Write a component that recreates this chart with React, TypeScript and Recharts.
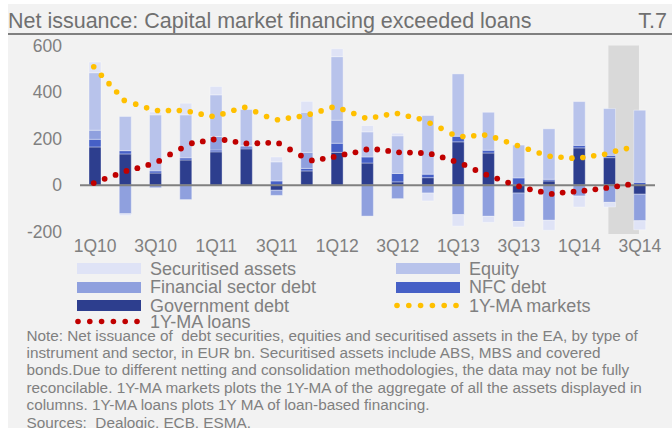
import React from 'react';
import {
  ComposedChart,
  Bar,
  Line,
  XAxis,
  YAxis,
  ReferenceLine,
  ReferenceArea
} from 'recharts';

// quarterly net issuance, EUR bn
const quarters = [
  '1Q10', '2Q10', '3Q10', '4Q10', '1Q11', '2Q11', '3Q11', '4Q11', '1Q12', '2Q12',
  '3Q12', '4Q12', '1Q13', '2Q13', '3Q13', '4Q13', '1Q14', '2Q14', '3Q14'
];
const governmentDebt = [164, 134, 52, 108, 143, 156, -22, 61, 141, 95, 14, 32, 186, 138, -34, 18, 160, 118, -39];
const nfcDebt = [33, 14, 9, 9, 8, 8, 18, 11, 39, 26, 36, 15, 24, 12, 31, 7, 11, 10, 12];
const financialDebt = [39, -123, -11, -62, 58, 6, -22, 69, 99, -133, -58, -34, -127, -134, -122, -151, -47, -74, -114];
const equity = [247, 147, 241, 185, 179, 155, 82, 172, 273, 108, 162, 252, 268, 163, 141, 217, 188, 201, 310];
const securitised = [46, -8, 12, 50, 36, 0, 21, 47, 34, 27, 11, -34, -49, -26, -24, -43, -47, -20, -39];

// 1Y moving averages (monthly points)
const marketsX = [
  0, 0.7, 1.4, 2.1, 2.8, 3.85, 4.85, 5.85, 6.85, 7.85, 8.85, 9.85, 10.85, 11.85, 12.85,
  13.85, 14.85, 15.85, 16.85, 17.85, 18.85, 19.85, 20.85, 21.85, 22.85, 23.85, 24.85,
  25.85, 26.85, 27.85, 28.85, 29.85, 30.85, 31.85, 32.85, 33.85, 34.85, 35.85, 36.85,
  37.85, 38.85, 39.85, 40.85, 41.85, 42.85, 43.85, 44.85, 45.85, 46.85, 47.85, 48.85
];
const marketsMA = [
  509, 472, 436, 400, 364, 348, 332, 321, 321, 321, 315, 305, 296, 306,
  322, 334, 315, 295, 281, 288, 295, 305, 319, 334, 325, 308,
  289, 293, 302, 308, 296, 285, 266, 244, 220, 209, 212, 215, 203,
  186, 170, 154, 138, 124, 120, 116, 119, 126, 133, 146, 157
];
const loansMA = [
  9, 27, 44, 61, 73, 87, 104, 132, 157, 180, 188, 196, 194,
  186, 179, 180, 182, 179, 153, 127, 106, 113, 121, 132, 141,
  153, 153, 147, 141, 140, 138, 133, 119, 104, 87, 65, 45, 28,
  11, -5, -18, -28, -38, -32, -28, -24, -18, -12, -5, 2
];

const yTicks = [-200, 0, 200, 400, 600];

const noteLines = [
  'Note: Net issuance of  debt securities, equities and securitised assets in the EA, by type of',
  'instrument and sector, in EUR bn. Securitised assets include ABS, MBS and covered',
  'bonds.Due to different netting and consolidation methodologies, the data may not be fully',
  'reconcilable. 1Y-MA markets plots the 1Y-MA of the aggregate of all the assets displayed in',
  'columns. 1Y-MA loans plots 1Y MA of loan-based financing.',
  'Sources:  Dealogic, ECB, ESMA.'
];

const FONT = '"Liberation Sans", Arial, sans-serif';
const GREY = '#808080';
const C_GOV = '#2D3E8E';
const C_NFC = '#4660C6';
const C_FIN = '#8FA0DE';
const C_EQ = '#B8C3EB';
const C_SEC = '#DFE3F6';
const C_MKT = '#FFC000';
const C_LOAN = '#C00000';

const barData = quarters.map((q, i) => ({
  q,
  gov: governmentDebt[i],
  nfc: nfcDebt[i],
  fin: financialDebt[i],
  eq: equity[i],
  sec: securitised[i]
}));
const marketsData = marketsX.map((t, i) => ({ t, markets: marketsMA[i] }));
const loansData = loansMA.map((v, i) => ({ t: i, loans: v }));

const tickStyle = { fill: GREY, fontSize: 17.5, fontFamily: FONT };

const Swatch = ({ color }: { color: string }) => (
  <div style={{ width: 64, height: 11, background: color }} />
);

const DotSwatch = ({ color }: { color: string }) => (
  <svg width={66} height={11}>
    {[0, 1, 2, 3, 4, 5].map((k) => (
      <circle key={k} cx={3 + k * 11.8} cy={5.5} r={2.8} fill={color} />
    ))}
  </svg>
);

const legendItems = [
  { label: 'Securitised assets', x: 77, y: 268.5, kind: 'bar', color: C_SEC },
  { label: 'Equity', x: 396, y: 268.5, kind: 'bar', color: C_EQ },
  { label: 'Financial sector debt', x: 77, y: 287, kind: 'bar', color: C_FIN },
  { label: 'NFC debt', x: 396, y: 287, kind: 'bar', color: C_NFC },
  { label: 'Government debt', x: 77, y: 305.5, kind: 'bar', color: C_GOV },
  { label: '1Y-MA markets', x: 394, y: 305.5, kind: 'dot', color: C_MKT },
  { label: '1Y-MA loans', x: 75, y: 321.5, kind: 'dot', color: C_LOAN }
];

export default function App() {
  const barProps = {
    xAxisId: 'q',
    stackId: 's',
    barSize: 12,
    stroke: '#ffffff',
    strokeOpacity: 0.35,
    strokeWidth: 1,
    isAnimationActive: false
  };
  return (
    <div
      style={{
        position: 'absolute',
        left: 0,
        top: 0,
        width: 672,
        height: 428,
        background: '#ffffff',
        overflow: 'hidden',
        fontFamily: FONT
      }}
    >
      <div style={{ position: 'absolute', left: 8, top: 4, right: 0, bottom: 0, background: '#F2F2F2' }} />

      {/* title bar */}
      <div
        style={{
          position: 'absolute',
          left: 8,
          top: 9,
          fontSize: 21.5,
          lineHeight: '24px',
          color: '#707070',
          whiteSpace: 'nowrap'
        }}
      >
        Net issuance: Capital market financing exceeded loans
      </div>
      <div
        style={{
          position: 'absolute',
          right: 5,
          top: 9,
          fontSize: 21.5,
          lineHeight: '24px',
          color: '#707070'
        }}
      >
        T.7
      </div>
      <div style={{ position: 'absolute', left: 8, right: 0, top: 33, height: 2, background: GREY }} />

      <div style={{ position: 'absolute', left: 0, top: 0 }}>
        <ComposedChart
          width={672}
          height={264}
          data={barData}
          stackOffset="sign"
          margin={{ top: 45.5, right: 17, left: 0, bottom: 0 }}
        >
          <XAxis
            xAxisId="q"
            dataKey="q"
            interval={1}
            axisLine={false}
            tickLine={false}
            tickSize={0}
            tickMargin={6}
            height={30}
            tick={tickStyle}
          />
          <XAxis xAxisId="t" dataKey="t" type="number" domain={[-1.26, 51.47]} allowDataOverflow hide />
          <YAxis
            domain={[-210, 600]}
            ticks={yTicks}
            width={80}
            axisLine={false}
            tickLine={false}
            tickSize={0}
            tickMargin={18}
            tick={tickStyle}
          />
          <ReferenceArea
            xAxisId="t"
            x1={47.2}
            x2={50}
            y1={-210}
            y2={600}
            fill="#D9D9D9"
            fillOpacity={1}
            stroke="none"
          />
          <Bar {...barProps} dataKey="gov" fill={C_GOV} />
          <Bar {...barProps} dataKey="nfc" fill={C_NFC} />
          <Bar {...barProps} dataKey="fin" fill={C_FIN} />
          <Bar {...barProps} dataKey="eq" fill={C_EQ} />
          <Bar {...barProps} dataKey="sec" fill={C_SEC} />
          <ReferenceLine xAxisId="q" y={0} stroke={GREY} strokeWidth={2} />
          <Line
            xAxisId="t"
            data={marketsData}
            dataKey="markets"
            stroke="none"
            dot={{ r: 2.8, fill: C_MKT, stroke: 'none' }}
            activeDot={false}
            isAnimationActive={false}
          />
          <Line
            xAxisId="t"
            data={loansData}
            dataKey="loans"
            stroke="none"
            dot={{ r: 2.9, fill: C_LOAN, stroke: 'none' }}
            activeDot={false}
            isAnimationActive={false}
          />
        </ComposedChart>
      </div>

      {/* legend */}
      {legendItems.map((it) => (
        <div
          key={it.label}
          style={{
            position: 'absolute',
            left: it.x,
            top: it.y - 8,
            height: 16,
            display: 'flex',
            alignItems: 'center',
            whiteSpace: 'nowrap'
          }}
        >
          {it.kind === 'bar' ? <Swatch color={it.color} /> : <DotSwatch color={it.color} />}
          <span
            style={{
              marginLeft: 9,
              fontSize: 18,
              lineHeight: '16px',
              color: GREY
            }}
          >
            {it.label}
          </span>
        </div>
      ))}

      {/* note */}
      <div style={{ position: 'absolute', left: 26.5, top: 326.5, fontSize: 15.3, lineHeight: '17.4px', color: GREY }}>
        {noteLines.map((l) => (
          <div key={l} style={{ whiteSpace: 'pre' }}>
            {l}
          </div>
        ))}
      </div>
    </div>
  );
}
